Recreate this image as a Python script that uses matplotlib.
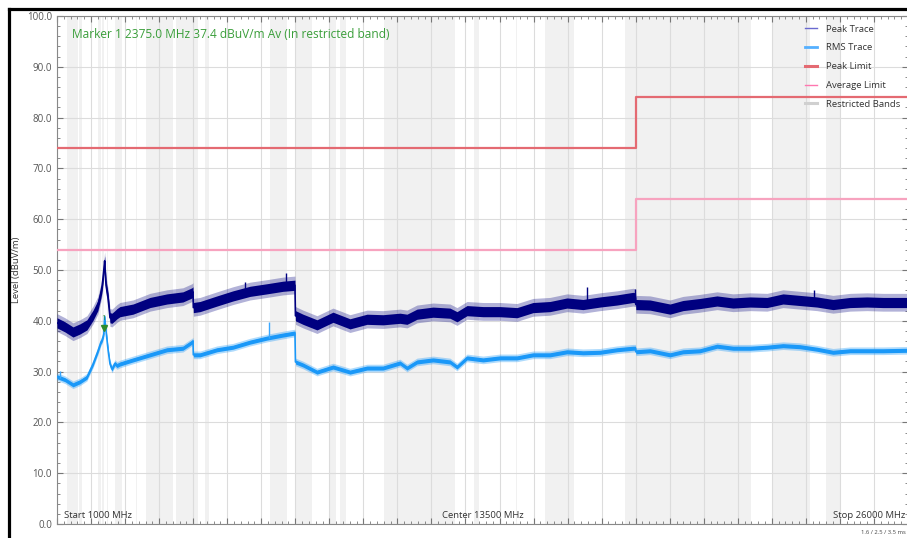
import numpy as np
import matplotlib.pyplot as plt
from matplotlib.lines import Line2D
from matplotlib.ticker import MultipleLocator

plt.rcParams['font.family'] = ['Open Sans', 'DejaVu Sans']

# Frecuencias (MHz) y niveles (dBuV/m)
freq = [1000, 1235, 1470, 1675, 1880, 2060, 2200, 2290, 2330, 2375, 2400, 2440,
        2500, 2557, 2615, 2700, 2763, 2850, 3233, 3732, 4231, 4700, 4966, 4995,
        5005, 5201, 5700, 6170, 6670, 7170, 7640, 7990, 8005, 8227, 8638, 9108,
        9607, 10107, 10577, 11076, 11282, 11576, 12046, 12545, 12751, 13045, 13515,
        14014, 14514, 14984, 15483, 15982, 16452, 16952, 17451, 17921, 17995, 18005,
        18421, 19008, 19390, 19890, 20389, 20859, 21358, 21858, 22328, 22827, 23327,
        23797, 24296, 24796, 25266, 26000]
peak = [39.6, 38.8, 37.8, 38.4, 39.2, 41.1, 43.0, 45.5, 47.0, 50.0, 51.8, 47.0,
        44.5, 40.6, 40.5, 41.0, 41.4, 41.8, 42.3, 43.6, 44.3, 44.7, 45.5, 45.7,
        42.6, 42.8, 43.9, 44.9, 45.8, 46.3, 46.8, 47.0, 41.0, 40.3, 39.2, 40.7,
        39.4, 40.3, 40.2, 40.5, 40.3, 41.3, 41.7, 41.5, 40.8, 42.0, 41.8,
        41.8, 41.6, 42.6, 42.8, 43.5, 43.2, 43.7, 44.1, 44.6, 44.5, 43.2,
        43.1, 42.3, 43.0, 43.4, 43.9, 43.5, 43.7, 43.6, 44.3, 44.0, 43.7,
        43.2, 43.6, 43.7, 43.6, 43.6]
rms = [29.0, 28.4, 27.4, 28.0, 28.9, 31.5, 34.0, 35.8, 36.3, 37.4, 40.8, 38.0,
       34.3, 31.5, 30.5, 31.6, 31.2, 31.5, 32.3, 33.3, 34.3, 34.6, 35.8, 36.0,
       33.3, 33.3, 34.3, 34.8, 35.8, 36.6, 37.2, 37.6, 31.9, 31.3, 29.9, 30.9,
       29.9, 30.7, 30.7, 31.7, 30.7, 31.9, 32.3, 31.9, 30.9, 32.7, 32.3,
       32.7, 32.7, 33.3, 33.3, 33.9, 33.7, 33.8, 34.3, 34.6, 34.6, 33.9,
       34.1, 33.3, 33.9, 34.1, 35.0, 34.6, 34.6, 34.8, 35.1, 34.9, 34.4,
       33.8, 34.1, 34.1, 34.1, 34.2]

# Picos aislados
peak_spike_mhz = [6523, 7727, 16570, 17990, 23240]
peak_spike_top = [47.6, 49.4, 46.7, 46.3, 46.1]
rms_spike_mhz = [1088, 7219]
rms_spike_top = [30.2, 39.8]

# Limites
limit_freq = [1000, 2400, 2400, 2483.5, 18000, 18000, 26000]
peak_limit = [74, 74, np.nan, 74, 74, 84, 84]
avg_limit = [54, 54, np.nan, 54, 54, 64, 64]

# Bandas restringidas (MHz)
restricted = [(1300, 1427), (1435, 1626.5), (1645.5, 1646.5), (1660, 1710),
              (1718.8, 1722.2), (2200, 2300), (2310, 2390), (2483.5, 2500),
              (2690, 2900), (3260, 3267), (3332, 3339), (3345.8, 3358),
              (3600, 4400), (4500, 5150), (5350, 5460), (7250, 7750),
              (8025, 8500), (9000, 9200), (9300, 9500), (10600, 12700),
              (13250, 13400), (14470, 14500), (15350, 16200), (17700, 21400),
              (22010, 23120), (23600, 24000)]

marker_mhz = 2375
marker_level = 37.4

fig = plt.figure(figsize=(9.07, 5.38), dpi=100)
ax = fig.add_axes([57 / 907, 14 / 538, 851 / 907, 508 / 538])

for a, b in restricted:
    ax.axvspan(a, b, color='#f1f1f1', lw=0, zorder=0)

ax.set_xlim(1000, 26000)
ax.set_ylim(0, 100)
ax.xaxis.set_major_locator(MultipleLocator(1000))
ax.xaxis.set_minor_locator(MultipleLocator(200))
ax.yaxis.set_major_locator(MultipleLocator(10))
ax.yaxis.set_minor_locator(MultipleLocator(2))
ax.grid(True, which='major', color='#dcdcdc', lw=0.8, zorder=1)
ax.set_axisbelow(True)
ax.tick_params(which='both', direction='in', top=True, right=True,
               labelbottom=False, colors='#777777', labelcolor='#555555',
               labelsize=7)
ax.tick_params(which='major', length=4)
ax.tick_params(which='minor', length=2)
ax.yaxis.set_major_formatter(lambda v, p: f'{v:.1f}')
for s in ax.spines.values():
    s.set_color('#888888')
ax.set_ylabel('Level (dBuV/m)', fontsize=6.8, color='#333333')
ax.yaxis.set_label_coords(-36 / 851, 0.5)

pk = np.array(peak)
rm = np.array(rms)

# Trazas (banda de ruido + nucleo)
ax.fill_between(freq, pk - 1.7, pk + 1.8, color='#000080', alpha=0.3, lw=0, zorder=3)
ax.fill_between(freq, pk - 1.0, pk + 1.0, color='#000080', lw=0, zorder=3)
ax.plot(freq, peak, color='#000080', lw=1.2, zorder=3)
ax.vlines(peak_spike_mhz, np.interp(peak_spike_mhz, freq, peak), peak_spike_top,
          color='#000080', lw=1, zorder=3)
ax.fill_between(freq, rm - 0.75, rm + 0.75, color='#1a98f8', alpha=0.35, lw=0, zorder=4)
ax.fill_between(freq, rm - 0.4, rm + 0.4, color='#1a98f8', lw=0, zorder=4)
ax.plot(freq, rms, color='#1a98f8', lw=1.2, zorder=4)
ax.vlines(rms_spike_mhz, np.interp(rms_spike_mhz, freq, rms), rms_spike_top,
          color='#3aa8ff', lw=1, zorder=4)

ax.plot(limit_freq, peak_limit, color='#e46a72', lw=1.6, zorder=5)
ax.plot(limit_freq, avg_limit, color='#f7a3bf', lw=1.6, zorder=5)

# Marcador
ax.plot([marker_mhz], [marker_level + 1.1], marker='v', ms=5, color='#2e8b2e', zorder=6)
ax.text(marker_mhz - 20, marker_level + 2.4, '1', fontsize=5.5, color='#2e8b2e',
        ha='center', va='bottom', zorder=6)
ax.text(1450, 96.3, f'Marker 1 {marker_mhz:.1f} MHz {marker_level} dBuV/m Av (In restricted band)',
        fontsize=8.6, color='#3a9e3a', va='center')

ax.text(1200, 1.2, 'Start 1000 MHz', fontsize=6.8, color='#333333')
ax.text(13500, 1.2, 'Center 13500 MHz', fontsize=6.8, color='#333333', ha='center')
ax.text(25930, 1.2, 'Stop 26000 MHz', fontsize=6.8, color='#333333', ha='right')

handles = [Line2D([], [], color='#6a6ad0', lw=1),
           Line2D([], [], color='#55b0ff', lw=2),
           Line2D([], [], color='#e46a72', lw=2.2),
           Line2D([], [], color='#ff77b0', lw=1),
           Line2D([], [], color='#d0d0d0', lw=2.2)]
labels = ['Peak Trace', 'RMS Trace', 'Peak Limit', 'Average Limit', 'Restricted Bands']
ax.legend(handles, labels, loc='upper left', bbox_to_anchor=(800 / 907, 1 - 20 / 538),
          bbox_transform=fig.transFigure, frameon=False, fontsize=6.8,
          handlelength=1.3, handletextpad=1.0, labelspacing=1.03, borderpad=0,
          labelcolor='#333333')

fig.text(861 / 907, 1 - 533 / 538, '1.6 / 2.5 / 3.5 ms', fontsize=4.2, color='#444444',
         va='center')

# Marco negro
fig.add_artist(Line2D([9 / 907, 9 / 907], [0, 1 - 9 / 538], color='black', lw=2.3,
                      transform=fig.transFigure))
fig.add_artist(Line2D([9 / 907, 1], [1 - 9 / 538, 1 - 9 / 538], color='black', lw=2.3,
                      transform=fig.transFigure))

fig.savefig('out.png', dpi=100)
